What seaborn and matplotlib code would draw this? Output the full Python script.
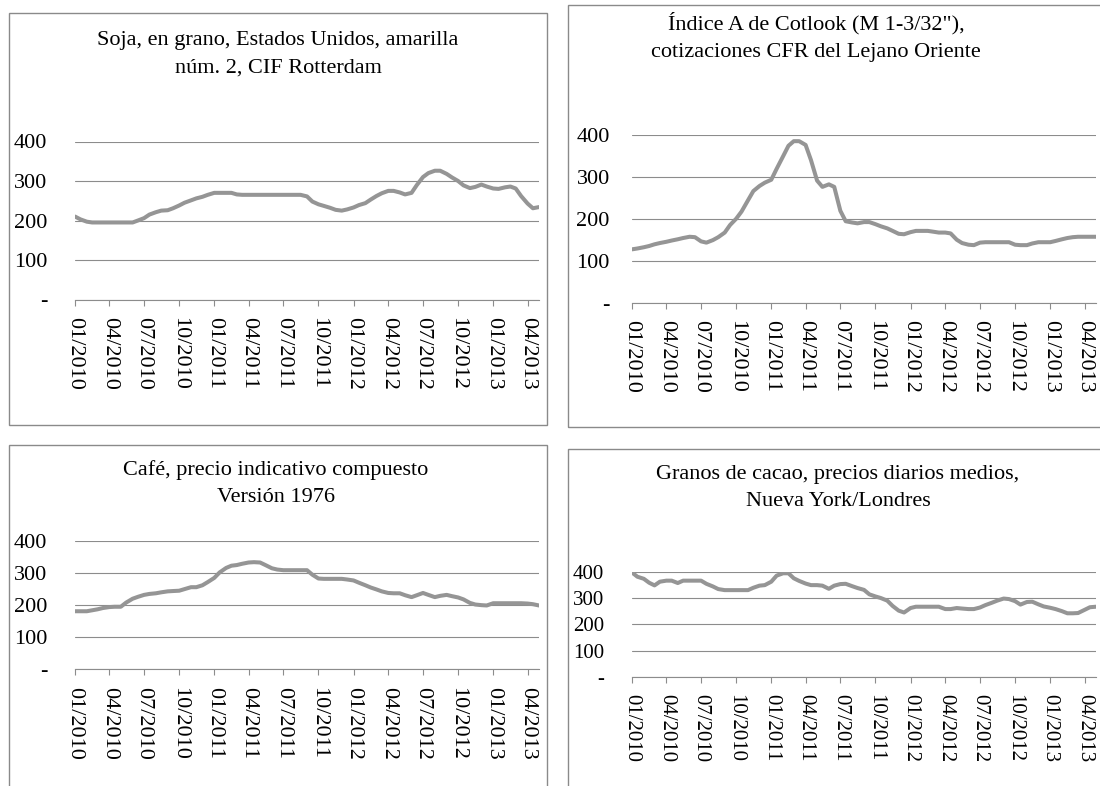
import pandas as pd
import seaborn as sns
import matplotlib.pyplot as plt
import matplotlib.dates as mdates
from matplotlib.patches import Rectangle
from matplotlib.ticker import FuncFormatter

# quincenal, 01/2010 - 05/2013
fechas = pd.date_range('2010-01-01', '2013-05-01', freq='SMS')

soja = [210, 203, 197, 195, 195, 195, 195, 195, 195, 195,
        195, 200, 206, 215, 221, 225, 226, 231, 238, 245,
        251, 256, 260, 265, 270, 270, 270, 270, 266, 265,
        265, 265, 265, 265, 265, 265, 265, 265, 265, 265,
        261, 248, 241, 237, 232, 227, 225, 228, 233, 239,
        244, 253, 262, 269, 275, 275, 271, 266, 270, 290,
        310, 320, 326, 326, 318, 309, 300, 289, 282, 285,
        291, 286, 281, 280, 284, 286, 281, 262, 243, 231,
        234]

algodon = [128, 130, 133, 136, 140, 143, 146, 149, 152, 155,
           158, 157, 147, 144, 150, 157, 168, 186, 201, 218,
           245, 267, 279, 287, 294, 320, 350, 375, 386, 386,
           377, 341, 292, 277, 283, 277, 220, 195, 192, 190,
           193, 193, 188, 183, 178, 172, 165, 164, 169, 172,
           172, 172, 170, 168, 168, 166, 151, 143, 139, 138,
           144, 145, 145, 145, 145, 145, 139, 138, 138, 142,
           145, 145, 145, 148, 152, 155, 157, 158, 158, 158,
           158]

cafe = [181, 181, 181, 184, 187, 191, 194, 195, 195, 208,
        220, 226, 232, 235, 237, 240, 243, 244, 245, 250,
        256, 256, 262, 272, 285, 302, 316, 323, 325, 329,
        333, 334, 333, 325, 315, 311, 309, 309, 309, 309,
        309, 295, 283, 282, 282, 282, 282, 280, 277, 270,
        262, 255, 249, 243, 238, 237, 237, 231, 225, 231,
        238, 232, 225, 229, 232, 228, 224, 218, 207, 202,
        200, 199, 206, 206, 206, 206, 206, 206, 205, 203,
        199]

cacao = [397, 381, 373, 358, 348, 362, 366, 366, 357, 366,
         366, 366, 366, 354, 344, 334, 330, 330, 330, 330,
         330, 339, 347, 349, 362, 385, 394, 394, 375, 365,
         355, 349, 349, 347, 335, 347, 353, 354, 345, 338,
         331, 314, 306, 300, 290, 270, 252, 245, 262, 267,
         267, 267, 267, 267, 258, 258, 262, 260, 258, 258,
         264, 273, 282, 290, 298, 296, 288, 275, 285, 286,
         276, 268, 263, 258, 250, 242, 242, 243, 255, 265,
         267]

titulos = [
    ("Soja, en grano, Estados Unidos, amarilla", "núm. 2, CIF Rotterdam"),
    ("Índice A de Cotlook (M 1-3/32\"),", "cotizaciones CFR del Lejano Oriente"),
    ("Café, precio indicativo compuesto", "Versión 1976"),
    ("Granos de cacao, precios diarios medios,", "Nueva York/Londres"),
]
series = [soja, algodon, cafe, cacao]
y_ticks = [0, 100, 200, 300, 400]

sns.set_theme(style='white')
plt.rcParams['font.family'] = ['Liberation Serif', 'DejaVu Serif']

W, H = 1100, 786
fig = plt.figure(figsize=(W / 100, H / 100), dpi=100)


def frac(l, t, r, b):
    return [l / W, 1 - b / H, (r - l) / W, (b - t) / H]


# plot area, frame box, title centre and y-label pad (pixels)
layout = [
    dict(ax=(75, 141.5, 539, 299.5), box=(9, 13, 547, 425), tx=278, ty=(40, 68), pad=20, fs=16),
    dict(ax=(632, 135.3, 1096, 303), box=(568, 5, 1115, 427), tx=816, ty=(23, 52), pad=16, fs=16),
    dict(ax=(75, 541, 539, 669.3), box=(9, 445, 547, 800), tx=276, ty=(470, 498), pad=20, fs=16),
    dict(ax=(632, 571.7, 1096, 677), box=(568, 449, 1115, 800), tx=838, ty=(475, 502), pad=20, fs=15),
]

for lay, vals, tit in zip(layout, series, titulos):
    bx = lay['box']
    fig.patches.append(Rectangle((bx[0] / W, 1 - bx[3] / H), (bx[2] - bx[0]) / W, (bx[3] - bx[1]) / H,
                                 transform=fig.transFigure, fill=False, edgecolor='#8a8a8a', linewidth=1))
    for txt, yy in zip(tit, lay['ty']):
        fig.text(lay['tx'] / W, 1 - yy / H, txt, ha='center', va='center', fontsize=16, color='black')

    ax = fig.add_axes(frac(*lay['ax']))
    ax.patch.set_alpha(0)
    df = pd.DataFrame({'fecha': fechas, 'valor': vals})
    sns.lineplot(data=df, x='fecha', y='valor', ax=ax, color='#959595', linewidth=2.9)

    ax.set_xlim(fechas[0], fechas[-1])
    ax.set_ylim(0, 400)
    ax.set_yticks(y_ticks)
    ax.yaxis.set_major_formatter(FuncFormatter(lambda v, p: '-' if v == 0 else f'{v:.0f}'))
    ax.xaxis.set_major_locator(mdates.MonthLocator(bymonth=[1, 4, 7, 10]))
    ax.xaxis.set_major_formatter(mdates.DateFormatter('%m/%Y'))
    ax.set_xlabel('')
    ax.set_ylabel('')

    ax.yaxis.grid(True, color='#8c8c8c', linewidth=0.8)
    ax.xaxis.grid(False)
    for s in ['left', 'right', 'top']:
        ax.spines[s].set_visible(False)
    ax.spines['bottom'].set_color('#8c8c8c')
    ax.spines['bottom'].set_linewidth(0.8)

    ax.tick_params(axis='y', length=0, pad=lay['pad'], labelsize=lay['fs'], labelcolor='black')
    ax.tick_params(axis='x', direction='out', length=4.5, width=0.8, color='#8c8c8c',
                   pad=8, labelsize=lay['fs'], labelcolor='black', bottom=True)
    for lab in ax.get_yticklabels():
        lab.set_horizontalalignment('right')
    plt.setp(ax.get_xticklabels(), rotation=270, ha='center', va='top')

fig.savefig('out.png', dpi=100)
